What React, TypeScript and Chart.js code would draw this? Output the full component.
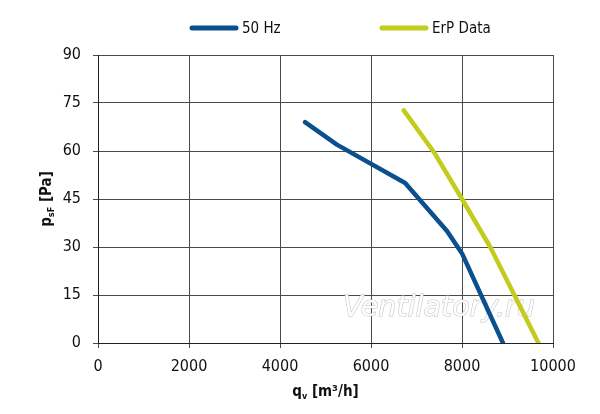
import React, { useEffect, useRef } from "react";
import { Chart, registerables, Plugin } from "chart.js";

Chart.register(...registerables);

// flow rate (m³/h) and static pressure (Pa)
const flow50Hz = [4550, 5250, 6750, 7670, 8000, 8900];
const pressure50Hz = [69, 62, 50, 35, 28, 0];
const flowErp = [6720, 7380, 8000, 8620, 9680];
const pressureErp = [72.7, 59.7, 45, 30, 0];

const seriesNames = ["50 Hz", "ErP Data"];
const seriesColors = ["#0a4f8e", "#c3cc1c"];

const FONT = "'Liberation Sans Narrow', 'DejaVu Sans Condensed', sans-serif";

// legend, axis titles with subscripts and the watermark
const decorations: Plugin<"line"> = {
  id: "decorations",
  beforeDatasetsDraw(chart) {
    const ctx = chart.ctx;
    ctx.save();
    ctx.font = `italic 29px ${FONT}`;
    ctx.textBaseline = "alphabetic";
    ctx.textAlign = "left";
    const text = "Ventilatory.ru";
    const w = ctx.measureText(text).width;
    ctx.translate(343, 316);
    ctx.scale(192 / w, 1);
    ctx.lineWidth = 1;
    ctx.strokeStyle = "rgba(180,180,180,0.8)";
    ctx.fillStyle = "rgba(255,255,255,0.95)";
    ctx.strokeText(text, 0, 0);
    ctx.fillText(text, 0, 0);
    ctx.restore();
  },
  afterDraw(chart) {
    const ctx = chart.ctx;
    const area = chart.chartArea;
    ctx.save();

    // legend
    const legendX = [190, 380];
    chart.data.datasets.forEach((ds, i) => {
      const x = legendX[i];
      ctx.strokeStyle = ds.borderColor as string;
      ctx.lineWidth = 5;
      ctx.lineCap = "round";
      ctx.beginPath();
      ctx.moveTo(x + 2, 28);
      ctx.lineTo(x + 46, 28);
      ctx.stroke();
      ctx.fillStyle = "#111";
      ctx.font = `15px ${FONT}`;
      ctx.textBaseline = "middle";
      ctx.textAlign = "left";
      ctx.fillText(ds.label as string, x + 52, 29);
    });

    // x title: q_v [m³/h]
    const cx = (area.left + area.right) / 2;
    ctx.fillStyle = "#111";
    ctx.textBaseline = "alphabetic";
    ctx.textAlign = "left";
    const big = `bold 15px ${FONT}`;
    const small = `bold 9px ${FONT}`;
    ctx.font = big;
    const wq = ctx.measureText("q").width;
    const wRest = ctx.measureText(" [m³/h]").width;
    ctx.font = small;
    const wv = ctx.measureText("v").width;
    let x0 = cx - (wq + wv + wRest) / 2;
    const by = 396;
    ctx.font = big;
    ctx.fillText("q", x0, by);
    ctx.font = small;
    ctx.fillText("v", x0 + wq, by + 3);
    ctx.font = big;
    ctx.fillText(" [m³/h]", x0 + wq + wv, by);

    // y title: p_sF [Pa]
    const cy = (area.top + area.bottom) / 2;
    ctx.translate(51, cy);
    ctx.rotate(-Math.PI / 2);
    ctx.font = big;
    const wp = ctx.measureText("p").width;
    const wPa = ctx.measureText(" [Pa]").width;
    ctx.font = small;
    const wsf = ctx.measureText("sF").width;
    x0 = -(wp + wsf + wPa) / 2;
    ctx.font = big;
    ctx.fillText("p", x0, 0);
    ctx.font = small;
    ctx.fillText("sF", x0 + wp, 3);
    ctx.font = big;
    ctx.fillText(" [Pa]", x0 + wp + wsf, 0);

    ctx.restore();
  },
};

const App: React.FC = () => {
  const canvasRef = useRef<HTMLCanvasElement | null>(null);

  useEffect(() => {
    document.body.style.margin = "0";
    if (!canvasRef.current) return;

    const chart = new Chart(canvasRef.current, {
      type: "line",
      data: {
        datasets: [
          {
            label: seriesNames[0],
            data: flow50Hz.map((q, i) => ({ x: q, y: pressure50Hz[i] })),
            borderColor: seriesColors[0],
            backgroundColor: seriesColors[0],
            borderWidth: 4.5,
            pointRadius: 0,
            borderCapStyle: "round",
            borderJoinStyle: "round",
          },
          {
            label: seriesNames[1],
            data: flowErp.map((q, i) => ({ x: q, y: pressureErp[i] })),
            borderColor: seriesColors[1],
            backgroundColor: seriesColors[1],
            borderWidth: 4.5,
            pointRadius: 0,
            borderCapStyle: "round",
            borderJoinStyle: "round",
          },
        ],
      },
      options: {
        responsive: false,
        animation: false,
        layout: { padding: { top: 55, right: 47, left: 0, bottom: 0 } },
        plugins: {
          legend: { display: false },
          tooltip: { enabled: false },
        },
        scales: {
          x: {
            type: "linear",
            min: 0,
            max: 10000,
            ticks: {
              stepSize: 2000,
              padding: 9,
              color: "#111",
              font: { family: FONT, size: 16 },
              maxRotation: 0,
              callback: (v) => String(v),
            },
            grid: { color: "#4a4a4a", lineWidth: 1, tickLength: 5 },
            border: { color: "#222", width: 1 },
            afterFit: (scale) => {
              scale.height = 71;
            },
          },
          y: {
            min: 0,
            max: 90,
            ticks: {
              stepSize: 15,
              padding: 12,
              color: "#111",
              font: { family: FONT, size: 16 },
              callback: (v) => String(v),
            },
            grid: { color: "#4a4a4a", lineWidth: 1, tickLength: 5 },
            border: { color: "#222", width: 1 },
            afterFit: (scale) => {
              scale.width = 98;
            },
          },
        },
      },
      plugins: [decorations],
    });

    return () => {
      chart.destroy();
    };
  }, []);

  return (
    <div style={{ width: "600px", height: "414px" }}>
      <canvas ref={canvasRef} width={600} height={414}></canvas>
    </div>
  );
};

export default App;
